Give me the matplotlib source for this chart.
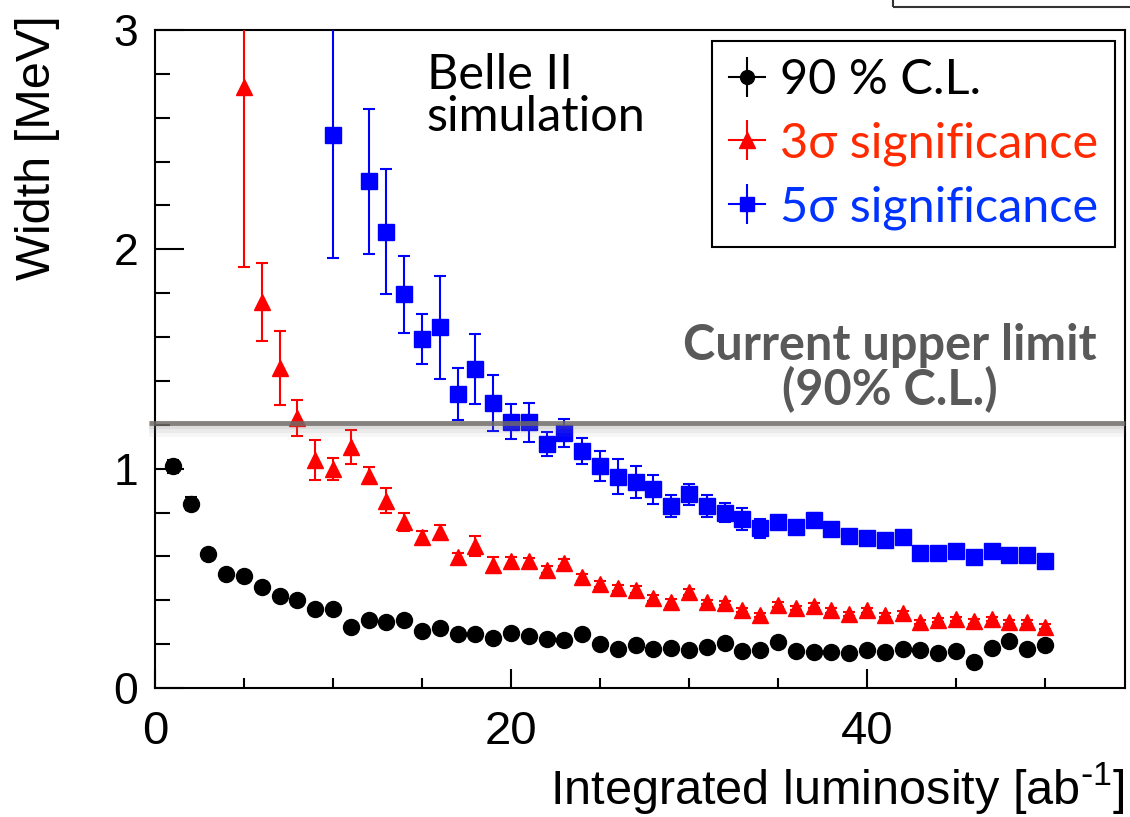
import numpy as np
import matplotlib
matplotlib.use("Agg")
import matplotlib.pyplot as plt
from matplotlib.lines import Line2D
from matplotlib.legend_handler import HandlerTuple
from matplotlib.ticker import MultipleLocator
from matplotlib.patches import Rectangle

# ---------------- data ----------------
lumi = np.arange(1, 51)

cl90 = [1.01, 0.84, 0.61, 0.52, 0.51, 0.46, 0.42, 0.40, 0.36, 0.36,
        0.28, 0.31, 0.30, 0.31, 0.26, 0.275, 0.245, 0.245, 0.23, 0.25,
        0.235, 0.223, 0.219, 0.246, 0.199, 0.178, 0.196, 0.176, 0.181, 0.173,
        0.188, 0.204, 0.169, 0.175, 0.208, 0.168, 0.166, 0.166, 0.161, 0.173,
        0.166, 0.176, 0.173, 0.158, 0.170, 0.120, 0.181, 0.214, 0.176, 0.196]
cl90_err = [0.03, 0.03] + [0.01] * 48

nan = np.nan
sig3 = [nan, nan, nan, nan, 2.74, 1.76, 1.46, 1.23, 1.04, 1.00,
        1.10, 0.968, 0.854, 0.758, 0.687, 0.713, 0.596, 0.647, 0.561, 0.578,
        0.578, 0.540, 0.571, 0.505, 0.475, 0.456, 0.448, 0.410, 0.391, 0.438,
        0.391, 0.388, 0.357, 0.334, 0.380, 0.365, 0.376, 0.354, 0.337, 0.354,
        0.333, 0.340, 0.302, 0.309, 0.314, 0.304, 0.315, 0.302, 0.302, 0.280]
sig3_err = [nan, nan, nan, nan, 0.82, 0.177, 0.169, 0.082, 0.09, 0.05,
            0.078, 0.04, 0.057, 0.04, 0.03, 0.03, 0.02, 0.045, 0.035, 0.02,
            0.015, 0.015, 0.015, 0.015, 0.015, 0.015, 0.015, 0.015, 0.015, 0.015,
            0.01, 0.01, 0.01, 0.01, 0.01, 0.01, 0.01, 0.01, 0.01, 0.01,
            0.01, 0.01, 0.01, 0.01, 0.01, 0.01, 0.01, 0.01, 0.01, 0.01]

sig5 = [nan, nan, nan, nan, nan, nan, nan, nan, nan, 2.52,
        nan, 2.31, 2.08, 1.795, 1.59, 1.645, 1.341, 1.455, 1.298, 1.214,
        1.211, 1.113, 1.164, 1.081, 1.012, 0.964, 0.941, 0.906, 0.830, 0.883,
        0.830, 0.800, 0.769, 0.728, 0.758, 0.733, 0.766, 0.724, 0.693, 0.684,
        0.675, 0.687, 0.614, 0.617, 0.625, 0.599, 0.625, 0.606, 0.606, 0.581]
sig5_err = [nan, nan, nan, nan, nan, nan, nan, nan, nan, 0.56,
            nan, 0.33, 0.285, 0.175, 0.114, 0.235, 0.118, 0.158, 0.128, 0.08,
            0.09, 0.055, 0.064, 0.06, 0.07, 0.08, 0.073, 0.065, 0.05, 0.048,
            0.05, 0.044, 0.05, 0.042, 0.02, 0.015, 0.03, 0.02, 0.01, 0.01,
            0.02, 0.01, 0.01, 0.01, 0.01, 0.01, 0.01, 0.01, 0.01, 0.01]

upper_limit = 1.21

labels = ["90 % C.L.", "3\u03c3 significance", "5\u03c3 significance"]
colors = ["#000000", "#ff0000", "#0000ff"]
text_colors = ["#000000", "#ff2a00", "#0033ff"]

# ---------------- figure ----------------
W, H = 1130, 817
fig = plt.figure(figsize=(W / 100, H / 100), dpi=100)
ax = fig.add_axes([155 / W, 1 - 688 / H, 970 / W, 658 / H])

axis_font = ["Liberation Sans", "DejaVu Sans"]
txt_font = ["Lato", "DejaVu Sans"]

common = dict(linestyle="none", elinewidth=1.5, capthick=1.5, capsize=4)
ax.errorbar(lumi, cl90, yerr=cl90_err, fmt="o", color=colors[0], ms=11.5,
            zorder=3, **common)
ax.errorbar(lumi, sig3, yerr=sig3_err, fmt="^", color=colors[1], ms=12,
            zorder=3, **common)
ax.errorbar(lumi, sig5, yerr=sig5_err, fmt="s", color=colors[2], ms=11,
            zorder=3, **common)

# current upper limit line with soft shadow
for dy, lw, a in [(0.032, 10, 0.07), (0.022, 8, 0.09), (0.012, 6, 0.12)]:
    ax.axhline(upper_limit - dy, xmin=-0.006, xmax=1.0, color="#808080", lw=lw,
               alpha=a, zorder=4, solid_capstyle="butt", clip_on=False)
ax.axhline(upper_limit, xmin=-0.006, xmax=1.0, color="#6e6a66", lw=3.5,
           alpha=0.8, zorder=5, solid_capstyle="butt", clip_on=False)

ax.set_xlim(0, 54.5)
ax.set_ylim(0, 3)

ax.xaxis.set_major_locator(MultipleLocator(20))
ax.xaxis.set_minor_locator(MultipleLocator(5))
ax.yaxis.set_major_locator(MultipleLocator(1))
ax.yaxis.set_minor_locator(MultipleLocator(0.2))
ax.tick_params(axis="x", which="major", direction="in", length=14, width=1.5,
               pad=16, labelsize=34)
ax.tick_params(axis="x", which="minor", direction="in", length=7, width=1.5)
ax.tick_params(axis="y", which="major", direction="in", length=21, width=1.5,
               pad=12, labelsize=32)
ax.tick_params(axis="y", which="minor", direction="in", length=11, width=1.5)
for lab in ax.get_xticklabels() + ax.get_yticklabels():
    lab.set_family(axis_font)
for s in ax.spines.values():
    s.set_linewidth(1.5)

ax.set_xlabel("Integrated luminosity [ab$^{\\mathregular{\\text{-}1}}$]",
              family=axis_font, fontsize=35, loc="right", labelpad=4)
ax.set_ylabel("Width [MeV]", family=axis_font, fontsize=35, loc="top")
ax.yaxis.set_label_coords(-0.098, 1.023)

ax.text(0.28, 0.965, "Belle II\nsimulation", transform=ax.transAxes,
        family=txt_font, fontsize=35, va="top", ha="left", linespacing=0.95)
ax.text(0.758, 0.418, "Current upper limit\n(90% C.L.)", transform=ax.transAxes,
        family=txt_font, fontsize=35, fontweight="bold", color="#595959",
        va="bottom", ha="center", linespacing=0.95, zorder=6)

handles = []
for c, m in zip(colors, ["o", "^", "s"]):
    h1 = Line2D([], [], color=c, marker=m, ms=11 if m == "^" else 10, lw=1.5)
    h2 = Line2D([], [], color=c, marker="|", ms=29, mew=1.5, linestyle="none")
    handles.append((h1, h2))
leg = ax.legend(handles, labels, handler_map={tuple: HandlerTuple(ndivide=1, pad=0)},
                loc="upper right", bbox_to_anchor=(0.9897, 0.9837),
                prop={"family": txt_font, "size": 35}, frameon=True,
                fancybox=False, edgecolor="black", framealpha=1,
                handlelength=0.75, handletextpad=0.3, labelspacing=0.4,
                borderpad=0.35, borderaxespad=0)
leg.get_frame().set_linewidth(1.5)
for t, c in zip(leg.get_texts(), text_colors):
    t.set_color(c)
leg.set_zorder(7)

# cut-off box at top right of the original picture
fig.patches.append(Rectangle((893 / W, 1 - 7 / H), 300 / W, 30 / H,
                             transform=fig.transFigure, fill=False,
                             edgecolor="#333333", lw=1.5))

fig.savefig("out.png", dpi=100)
